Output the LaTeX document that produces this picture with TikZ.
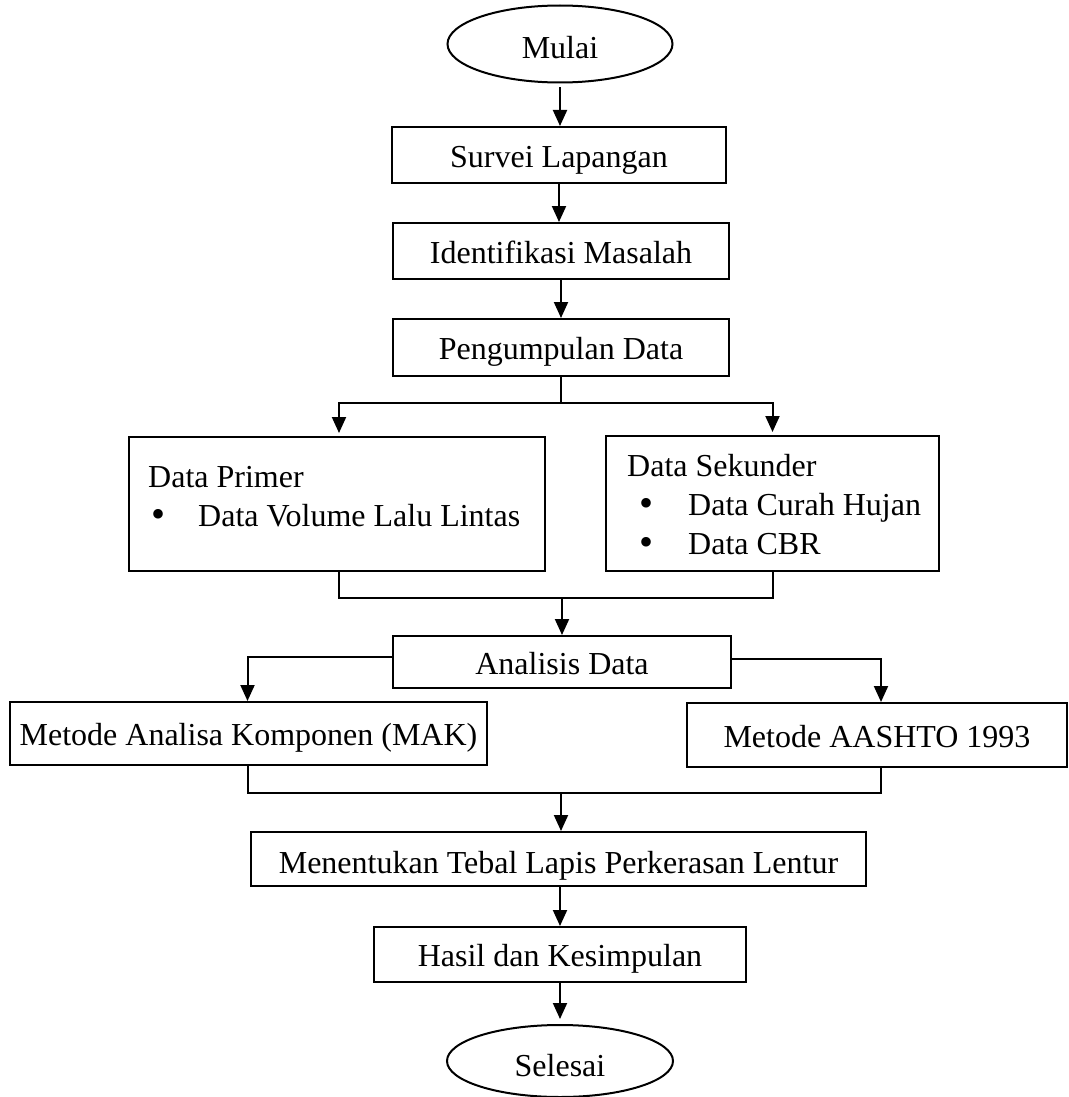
\documentclass[tikz,border=0pt]{standalone}
\usepackage{fontspec}
\setmainfont{Liberation Serif}
\usetikzlibrary{arrows.meta,shapes.geometric}
\tikzset{
  box/.style={draw,line width=2pt,rectangle,inner sep=0pt,align=center,text height=24pt,text depth=0pt},
  oval/.style={draw,line width=2pt,ellipse,inner sep=0pt,text height=30pt,text depth=0pt},
  conn/.style={line width=2pt},
  arr/.style={line width=2pt,-{Triangle[length=16pt,width=14pt]}},
  txt/.style={inner sep=0pt,anchor=base west},
  bul/.style={inner sep=0pt,anchor=base west,font=\fontsize{40}{40}\selectfont}
}
\begin{document}
\begin{tikzpicture}[x=1pt,y=-1pt,font=\fontsize{32}{38}\selectfont]
\useasboundingbox (0,0) rectangle (1068,1097);
\node[oval,minimum width=225pt,minimum height=77pt] (mulai) at (560,44) {Mulai};
\node[box,minimum width=334pt,minimum height=56pt] (survei) at (559,155) {Survei Lapangan};
\node[box,minimum width=336pt,minimum height=56pt] (ident) at (561,251) {Identifikasi Masalah};
\node[box,minimum width=336pt,minimum height=57pt] (peng) at (561,347.5) {Pengumpulan Data};
\node[box,minimum width=416pt,minimum height=134pt] (primer) at (337,504) {};
\node[box,minimum width=333pt,minimum height=135pt] (sekunder) at (772.5,503.5) {};
\node[txt] (tprimer) at (148,487) {Data Primer};
\node[bul] (b1) at (151,527) {\textbullet};
\node[txt] (tvol) at (198,526) {Data Volume Lalu Lintas};
\node[txt] (tsek) at (627,476) {Data Sekunder};
\node[bul] (b2) at (639,516) {\textbullet};
\node[txt] (tcur) at (688,515) {Data Curah Hujan};
\node[bul] (b3) at (639,555) {\textbullet};
\node[txt] (tcbr) at (688,554) {Data CBR};
\node[box,minimum width=338pt,minimum height=52pt] (analisis) at (562,662) {Analisis Data};
\node[box,minimum width=477pt,minimum height=63pt] (mak) at (248.5,733.5) {Metode Analisa Komponen (MAK)};
\node[box,minimum width=380pt,minimum height=64pt] (aashto) at (877,735) {Metode AASHTO 1993};
\node[box,minimum width=615pt,minimum height=54pt] (menentukan) at (558.5,859) {};
\node[txt,anchor=base] (tmen) at (558.5,873) {Menentukan Tebal Lapis Perkerasan Lentur};
\node[box,minimum width=372pt,minimum height=55pt] (hasil) at (560,954.5) {Hasil dan Kesimpulan};
\node[oval,minimum width=226pt,minimum height=72pt] (selesai) at (560,1061) {Selesai};

\draw[conn] (peng.south) -- ++(0,26) coordinate (sp);
\coordinate (j1) at (562,598);
\coordinate (j2) at (561,793);

\draw[arr] ([yshift=-4pt]mulai.south) -- (mulai.south |- survei.north);
\draw[arr] (survei.south) -- (survei.south |- ident.north);
\draw[arr] (ident.south) -- (peng.north);
\draw[arr,shorten >=3pt] (sp) -| ([xshift=2pt]primer.north);
\draw[arr,shorten >=3pt] (sp) -| (sekunder.north);
\draw[conn] ([xshift=2pt]primer.south) |- (j1) -| (sekunder.south);
\draw[arr] (j1) -- (analisis.north);
\draw[arr] ([yshift=5pt]analisis.west) -| ([xshift=-1pt]mak.north);
\draw[arr] ([yshift=3pt]analisis.east) -| ([xshift=4pt]aashto.north);
\draw[conn] ([xshift=-1pt]mak.south) |- (j2) -| ([xshift=4pt]aashto.south);
\draw[arr] (j2) -- (j2 |- menentukan.north);
\draw[arr] (menentukan.south -| hasil.north) -- (hasil.north);
\draw[arr] (hasil.south) -- ([yshift=5pt]selesai.north);
\end{tikzpicture}
\end{document}
